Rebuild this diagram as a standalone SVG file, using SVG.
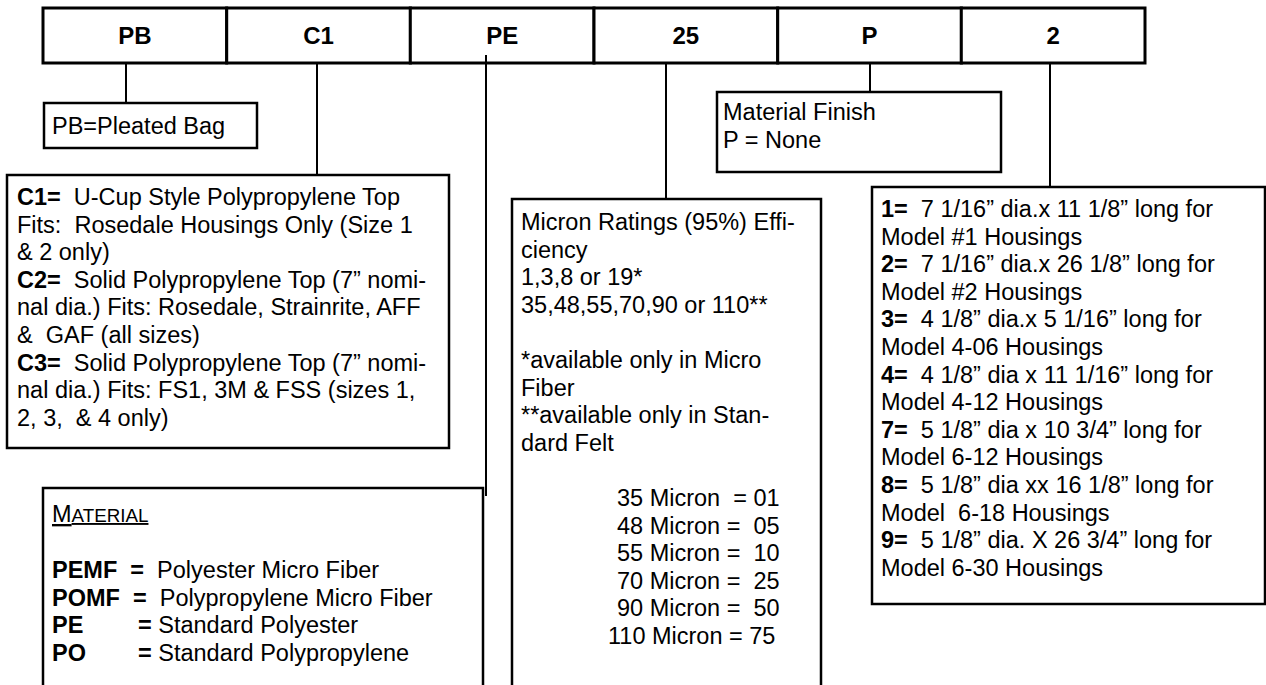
<svg xmlns="http://www.w3.org/2000/svg" width="1266" height="685" viewBox="0 0 1266 685">
<style>
.cell{fill:#fff;stroke:#000;stroke-width:3}
.box{fill:#fff;stroke:#000;stroke-width:2.5}
.conn{stroke:#000;stroke-width:2;fill:none}
text{font-family:"Liberation Sans",Arial,sans-serif;font-size:23.5px;fill:#000;white-space:pre}
.hd{font-weight:bold;font-size:24px;text-anchor:middle}
.b{font-weight:bold}
</style>
<rect width="1266" height="685" fill="#fff"/>
<g id="connectors">
<line class="conn" x1="126" y1="63" x2="126" y2="103"/>
<line class="conn" x1="317" y1="63" x2="317" y2="175"/>
<line class="conn" x1="486" y1="55" x2="486" y2="496"/>
<line class="conn" x1="666" y1="63" x2="666" y2="199"/>
<line class="conn" x1="870" y1="63" x2="870" y2="92"/>
<line class="conn" x1="1050" y1="63" x2="1050" y2="187"/>
</g>
<g id="cell-PB"><rect class="cell" x="43" y="8" width="183.7" height="55"/><text class="hd" x="134.8" y="44">PB</text></g>
<g id="cell-C1"><rect class="cell" x="226.7" y="8" width="183.7" height="55"/><text class="hd" x="318.5" y="44">C1</text></g>
<g id="cell-PE"><rect class="cell" x="410.3" y="8" width="183.7" height="55"/><text class="hd" x="502.2" y="44">PE</text></g>
<g id="cell-25"><rect class="cell" x="594" y="8" width="183.7" height="55"/><text class="hd" x="685.8" y="44">25</text></g>
<g id="cell-P"><rect class="cell" x="777.7" y="8" width="183.7" height="55"/><text class="hd" x="869.5" y="44">P</text></g>
<g id="cell-2"><rect class="cell" x="961.3" y="8" width="183.7" height="55"/><text class="hd" x="1053.2" y="44">2</text></g>
<line class="conn" x1="486" y1="55" x2="486" y2="63"/>

<g id="box-pb"><rect class="box" x="44" y="103" width="213" height="45"/><text x="52" y="134">PB=Pleated Bag</text></g>

<g id="box-c1"><rect class="box" x="7" y="175" width="442" height="273"/>
<text x="17" y="205"><tspan class="b">C1=</tspan>  U-Cup Style Polypropylene Top</text>
<text x="17" y="232.6">Fits:  Rosedale Housings Only (Size 1</text>
<text x="17" y="260.2">&amp; 2 only)</text>
<text x="17" y="287.8"><tspan class="b">C2=</tspan>  Solid Polypropylene Top (7” nomi-</text>
<text x="17" y="315.4">nal dia.) Fits: Rosedale, Strainrite, AFF</text>
<text x="17" y="343">&amp;  GAF (all sizes)</text>
<text x="17" y="370.6"><tspan class="b">C3=</tspan>  Solid Polypropylene Top (7” nomi-</text>
<text x="17" y="398.2">nal dia.) Fits: FS1, 3M &amp; FSS (sizes 1,</text>
<text x="17" y="425.8">2, 3,  &amp; 4 only)</text>
</g>

<g id="box-material"><rect class="box" x="43" y="488" width="440" height="220"/>
<text x="52" y="522" text-decoration="underline">M<tspan style="font-size:18.8px">ATERIAL</tspan></text>
<text x="52" y="578"><tspan class="b">PEMF  =</tspan>  Polyester Micro Fiber</text>
<text x="52" y="605.6"><tspan class="b">POMF  =</tspan>  Polypropylene Micro Fiber</text>
<text x="52" y="633.2"><tspan class="b">PE</tspan></text><text x="138" y="633.2"><tspan class="b">=</tspan> Standard Polyester</text>
<text x="52" y="660.8"><tspan class="b">PO</tspan></text><text x="138" y="660.8"><tspan class="b">=</tspan> Standard Polypropylene</text>
</g>

<g id="box-micron"><rect class="box" x="512" y="199" width="309" height="510"/>
<text x="521" y="230">Micron Ratings (95%) Effi-</text>
<text x="521" y="257.6">ciency</text>
<text x="521" y="285.2">1,3,8 or 19*</text>
<text x="521" y="312.8">35,48,55,70,90 or 110**</text>
<text x="521" y="368">*available only in Micro</text>
<text x="521" y="395.6">Fiber</text>
<text x="521" y="423.2">**available only in Stan-</text>
<text x="521" y="450.8">dard Felt</text>
<text x="617" y="506">35 Micron  = 01</text>
<text x="617" y="533.6">48 Micron =  05</text>
<text x="617" y="561.2">55 Micron =  10</text>
<text x="617" y="588.8">70 Micron =  25</text>
<text x="617" y="616.4">90 Micron =  50</text>
<text x="608" y="644">110 Micron = 75</text>
</g>

<g id="box-finish"><rect class="box" x="717" y="92" width="284" height="80"/>
<text x="723" y="120">Material Finish</text>
<text x="723" y="147.6">P = None</text>
</g>

<g id="box-size"><rect class="box" x="872" y="187" width="393" height="417"/>
<text x="881" y="217"><tspan class="b">1=</tspan>  7 1/16” dia.x 11 1/8” long for</text>
<text x="881" y="244.6">Model #1 Housings</text>
<text x="881" y="272.2"><tspan class="b">2=</tspan>  7 1/16” dia.x 26 1/8” long for</text>
<text x="881" y="299.8">Model #2 Housings</text>
<text x="881" y="327.4"><tspan class="b">3=</tspan>  4 1/8” dia.x 5 1/16” long for</text>
<text x="881" y="355">Model 4-06 Housings</text>
<text x="881" y="382.6"><tspan class="b">4=</tspan>  4 1/8” dia x 11 1/16” long for</text>
<text x="881" y="410.2">Model 4-12 Housings</text>
<text x="881" y="437.8"><tspan class="b">7=</tspan>  5 1/8” dia x 10 3/4” long for</text>
<text x="881" y="465.4">Model 6-12 Housings</text>
<text x="881" y="493"><tspan class="b">8=</tspan>  5 1/8” dia xx 16 1/8” long for</text>
<text x="881" y="520.6">Model  6-18 Housings</text>
<text x="881" y="548.2"><tspan class="b">9=</tspan>  5 1/8” dia. X 26 3/4” long for</text>
<text x="881" y="575.8">Model 6-30 Housings</text>
</g>
</svg>
